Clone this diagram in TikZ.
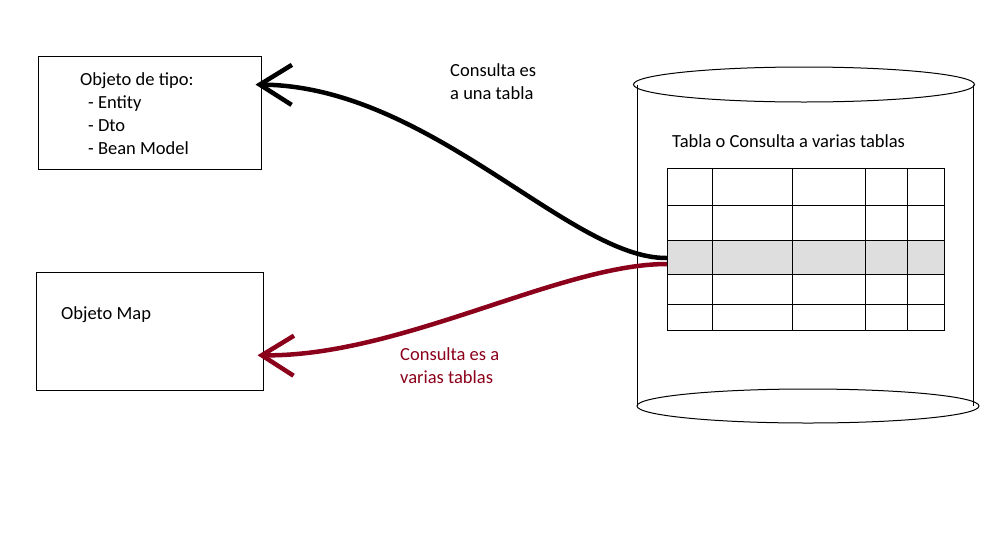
\documentclass[tikz,border=0pt]{standalone}
\usepackage{fontspec}
\setmainfont{Carlito}
\usetikzlibrary{arrows.meta,positioning}
\definecolor{consred}{RGB}{139,0,26}
\definecolor{rowgray}{RGB}{222,222,222}
\tikzset{
every node/.style={font=\fontsize{18.5}{23}\selectfont},
objbox/.style={draw,line width=1pt,rectangle,inner sep=0pt},
lbl/.style={align=left,inner sep=0pt,anchor=base west},
grid/.style={line width=1pt},
flow/.style={line width=4.5pt,-{Straight Barb[length=32pt,width=40pt]}}
}
\begin{document}
\begin{tikzpicture}[x=1pt,y=-1pt]
\useasboundingbox (0,0) rectangle (1008,536);

% the two objects on the left
\node[objbox,minimum width=223pt,minimum height=113pt] (b1) at (149.5,112.5) {};
\node[lbl] (t1) at (80,154)
  {Objeto de tipo:\\\hspace*{8pt}- Entity\\\hspace*{8pt}- Dto\\\hspace*{8pt}- Bean Model};
\node[objbox,minimum width=227pt,minimum height=118pt] (b2) at (149.5,331) {};
\node[lbl] (t2) at (61,319) {Objeto Map};

% the database cylinder
\draw[grid] (804,84.5) ellipse [x radius=170.5,y radius=17.5];
\draw[grid] (808,406) ellipse [x radius=171,y radius=17];
\draw[grid] (637,84.5) -- (637,406);
\draw[grid] (973,84.5) -- (973,406);
\node[lbl] (ttl) at (672,147.5) {Tabla o Consulta a varias tablas};

% the table with its selected row
\node[inner sep=0pt,minimum width=277pt,minimum height=34pt,fill=rowgray] (row) at (805.5,257) {};
\draw[grid] (667,168) rectangle (944,330);
\foreach \y in {205,240,274,304}
  \draw[grid] (667,\y) -- (944,\y);
\foreach \x in {712,792,865,907}
  \draw[grid] (\x,168) -- (\x,330);

% arrows from the row to the objects
\draw[flow] ([yshift=-1pt]row.west) .. controls (570,259) and (430,86) .. ([xshift=-6pt]b1.14);
\draw[flow,consred] ([yshift=-7pt]row.west) .. controls (560,264) and (400,357) .. ([xshift=-6pt]b2.-12);

% the base anchor sits on the last line
\node[lbl] (q1) at (450,99) {Consulta es\\a una tabla};
\node[lbl,text=consred] (q2) at (400,383) {Consulta es a\\varias tablas};
\end{tikzpicture}
\end{document}
